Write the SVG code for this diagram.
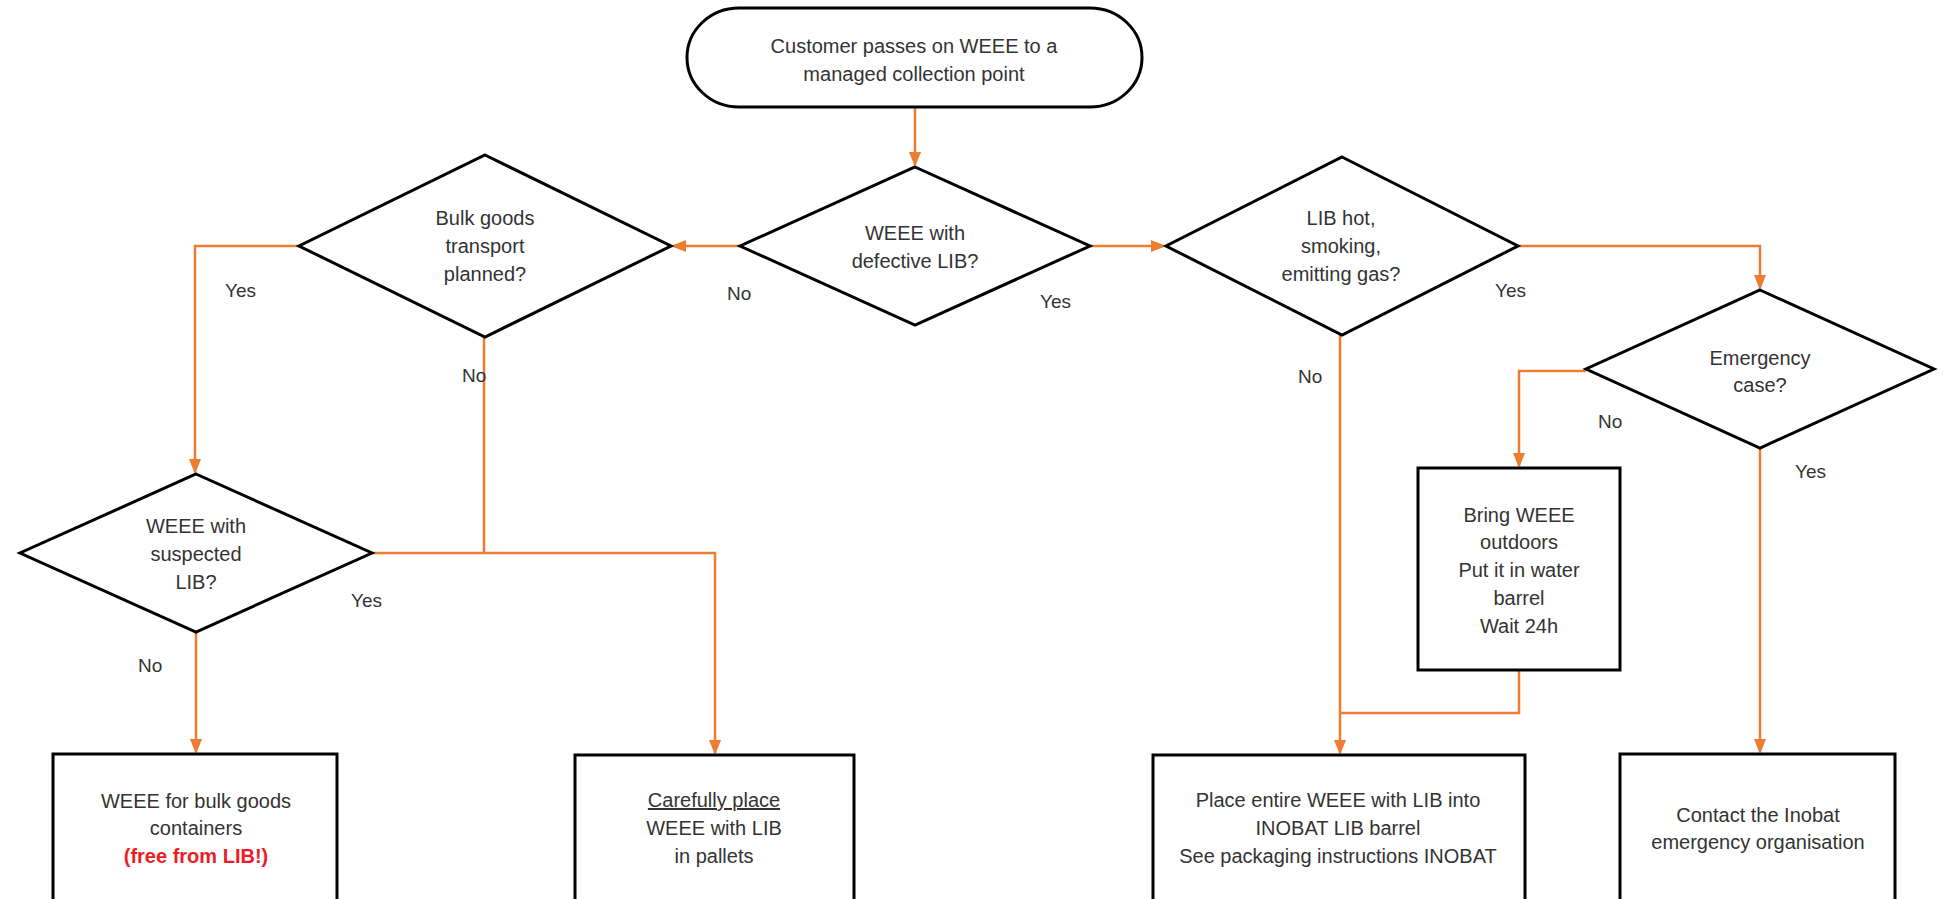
<svg xmlns="http://www.w3.org/2000/svg" width="1943" height="899" viewBox="0 0 1943 899">
<style>
  .shape { fill: #ffffff; stroke: #000000; stroke-width: 3; }
  .conn { fill: none; stroke: #ED7D31; stroke-width: 2.5; }
  text { font-family: "Liberation Sans", Arial, sans-serif; font-size: 20px; fill: #333333; text-anchor: middle; }
  .lbl { font-size: 19px; text-anchor: start; }
  .red { fill: #EE1C25; font-weight: bold; }
</style>
<defs>
  <marker id="arr" markerUnits="userSpaceOnUse" markerWidth="15" markerHeight="12" refX="13" refY="6" orient="auto">
    <path d="M0,0 L15,6 L0,12 z" fill="#ED7D31"/>
  </marker>
</defs>
<rect width="1943" height="899" fill="#ffffff"/>

<g id="connectors">
  <path class="conn" d="M915,107 V165" marker-end="url(#arr)"/>
  <path class="conn" d="M740,246 H673" marker-end="url(#arr)"/>
  <path class="conn" d="M1090,246 H1164" marker-end="url(#arr)"/>
  <path class="conn" d="M299,246 H195 V472" marker-end="url(#arr)"/>
  <path class="conn" d="M484,337 V553"/>
  <path class="conn" d="M372,553 H715 V753" marker-end="url(#arr)"/>
  <path class="conn" d="M196,632 V752" marker-end="url(#arr)"/>
  <path class="conn" d="M1518,246 H1760 V288" marker-end="url(#arr)"/>
  <path class="conn" d="M1340,335 V753" marker-end="url(#arr)"/>
  <path class="conn" d="M1586,371 H1519 V466" marker-end="url(#arr)"/>
  <path class="conn" d="M1519,670 V713 H1340"/>
  <path class="conn" d="M1760,448 V752" marker-end="url(#arr)"/>
</g>

<g id="start">
  <rect class="shape" x="687" y="8" width="455" height="99" rx="52" ry="49.5"/>
  <text x="914" y="53">Customer passes on WEEE to a</text>
  <text x="914" y="81">managed collection point</text>
</g>

<g id="defective">
  <polygon class="shape" points="915,167 1090,246 915,325 740,246"/>
  <text x="915" y="240">WEEE with</text>
  <text x="915" y="268">defective LIB?</text>
</g>

<g id="bulk">
  <polygon class="shape" points="485,155 671,246 485,337 299,246"/>
  <text x="485" y="225">Bulk goods</text>
  <text x="485" y="253">transport</text>
  <text x="485" y="281">planned?</text>
</g>

<g id="suspected">
  <polygon class="shape" points="196,474 372,553 196,632 20,553"/>
  <text x="196" y="533">WEEE with</text>
  <text x="196" y="561">suspected</text>
  <text x="196" y="589">LIB?</text>
</g>

<g id="hot">
  <polygon class="shape" points="1342,157 1518,246 1342,335 1166,246"/>
  <text x="1341" y="225">LIB hot,</text>
  <text x="1341" y="253">smoking,</text>
  <text x="1341" y="281">emitting gas?</text>
</g>

<g id="emergency">
  <polygon class="shape" points="1760,290 1934,369 1760,448 1586,369"/>
  <text x="1760" y="365">Emergency</text>
  <text x="1760" y="392">case?</text>
</g>

<g id="bring">
  <rect class="shape" x="1418" y="468" width="202" height="202"/>
  <text x="1519" y="522">Bring WEEE</text>
  <text x="1519" y="549">outdoors</text>
  <text x="1519" y="577">Put it in water</text>
  <text x="1519" y="605">barrel</text>
  <text x="1519" y="633">Wait 24h</text>
</g>

<g id="bulkcontainers">
  <rect class="shape" x="53" y="754" width="284" height="160"/>
  <text x="196" y="808">WEEE for bulk goods</text>
  <text x="196" y="835">containers</text>
  <text x="196" y="863" class="red">(free from LIB!)</text>
</g>

<g id="pallets">
  <rect class="shape" x="575" y="755" width="279" height="160"/>
  <text x="714" y="807" text-decoration="underline">Carefully place</text>
  <text x="714" y="835">WEEE with LIB</text>
  <text x="714" y="863">in pallets</text>
</g>

<g id="barrel">
  <rect class="shape" x="1153" y="755" width="372" height="160"/>
  <text x="1338" y="807">Place entire WEEE with LIB into</text>
  <text x="1338" y="835">INOBAT LIB barrel</text>
  <text x="1338" y="863">See packaging instructions INOBAT</text>
</g>

<g id="contact">
  <rect class="shape" x="1620" y="754" width="275" height="160"/>
  <text x="1758" y="822">Contact the Inobat</text>
  <text x="1758" y="849">emergency organisation</text>
</g>

<g id="labels">
  <text class="lbl" x="727" y="300">No</text>
  <text class="lbl" x="1040" y="308">Yes</text>
  <text class="lbl" x="225" y="297">Yes</text>
  <text class="lbl" x="462" y="382">No</text>
  <text class="lbl" x="351" y="607">Yes</text>
  <text class="lbl" x="138" y="672">No</text>
  <text class="lbl" x="1298" y="383">No</text>
  <text class="lbl" x="1495" y="297">Yes</text>
  <text class="lbl" x="1598" y="428">No</text>
  <text class="lbl" x="1795" y="478">Yes</text>
</g>
</svg>
